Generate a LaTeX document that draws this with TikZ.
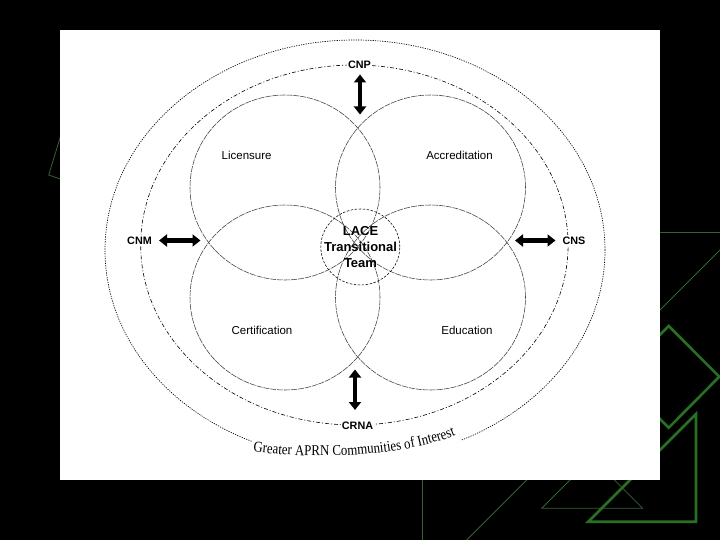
\documentclass[tikz,border=0pt]{standalone}
\usepackage{fontspec}
\setmainfont{Liberation Serif}
\setsansfont{Liberation Sans}
\newfontfamily\captionfont[FakeStretch=0.86]{Liberation Serif}
\usetikzlibrary{arrows.meta,decorations.text}
\definecolor{gthick}{RGB}{40,112,34}
\definecolor{gthin}{RGB}{52,98,52}
\definecolor{ringgray}{RGB}{60,60,60}
\tikzset{
  greenthin/.style={draw=gthin, line width=0.8pt},
  greenthick/.style={draw=gthick, line width=2.6pt, line join=miter},
  outerring/.style={draw=black, line width=0.65pt, dash pattern=on 1.2pt off 1.2pt},
  midring/.style={draw=black, line width=0.6pt, dash pattern=on 4pt off 2pt on 1pt off 2pt},
  petal/.style={draw=ringgray, line width=0.55pt, dash pattern=on 6pt off 1pt},
  corering/.style={draw=black, line width=0.55pt, dash pattern=on 2.5pt off 1.5pt},
  area/.style={font=\sffamily\fontsize{11.5}{12}\selectfont, inner sep=1pt},
  tag/.style={font=\sffamily\bfseries\fontsize{10.8}{11}\selectfont, fill=white, inner sep=1.2pt},
  core/.style={font=\sffamily\bfseries\fontsize{13}{16}\selectfont, align=center, inner sep=0pt},
  fat/.style={line width=4.5pt, {Triangle[length=8pt,width=12pt]}-{Triangle[length=8pt,width=12pt]}},
}
\begin{document}
\begin{tikzpicture}[x=1pt,y=-1pt]
\useasboundingbox (0,0) rectangle (720,540);
\fill[black] (0,0) rectangle (720,540);
% green decorations
\draw[greenthin] (68,112) -- (48.7,175) -- (66,181);
\draw[greenthin] (640,232.3) -- (720,232.3);
\draw[greenthin] (610,360) -- (720,250);
\draw[greenthin] (422.3,470) -- (422.3,540);
\draw[greenthin] (466.7,540) -- (545,461.7);
\draw[greenthin] (541.7,508.3) -- (592.2,457.8) -- (642.7,508.3) -- cycle;
\draw[greenthick] (668.7,326) -- (719.3,376.7) -- (668.7,427.7) -- (618,376.7) -- cycle;
\draw[greenthick] (588.3,521.7) -- (696,414) -- (696,521.7) -- cycle;
% white sheet
\fill[white] (60,30) rectangle (660,480);
% rings
\draw[outerring] (355,250) ellipse [x radius=250pt, y radius=210pt];
\draw[midring] (354.4,245) ellipse [x radius=213.7pt, y radius=180pt];
\draw[petal] (285,187.5) ellipse [x radius=95pt, y radius=92.5pt];
\draw[petal] (430.5,187.5) ellipse [x radius=95pt, y radius=92.5pt];
\draw[petal] (285,297.5) ellipse [x radius=95pt, y radius=92.5pt];
\draw[petal] (430.5,297.5) ellipse [x radius=95pt, y radius=92.5pt];
\draw[corering] (360.3,247) ellipse [x radius=39.5pt, y radius=38pt];
% area labels
\node[area] (lic) at (246.6,155.6) {Licensure};
\node[area] (acc) at (459.5,155.6) {Accreditation};
\node[area] (cert) at (262,330.6) {Certification};
\node[area] (edu) at (467,330.6) {Education};
\node[core] (lace) at (360.5,247.5) {LACE\\Transitional\\Team};
% outer tags
\node[tag] (cnp) at (359.5,65) {CNP};
\node[tag] (crna) at (357.5,425.5) {CRNA};
\node[tag] (cnm) at (139.5,240.5) {CNM};
\node[tag] (cns) at (574,240.5) {CNS};
% arrow ends
\coordinate (cnpA) at (360,74.5);
\coordinate (cnpB) at (360,114.5);
\coordinate (crnaA) at (355,369.5);
\coordinate (crnaB) at (355,410);
\coordinate (cnmA) at (159,240.5);
\coordinate (cnmB) at (200.5,240.5);
\coordinate (cnsA) at (515,240.5);
\coordinate (cnsB) at (555.5,240.5);
\draw[fat] (cnpA) -- (cnpB);
\draw[fat] (crnaA) -- (crnaB);
\draw[fat] (cnmA) -- (cnmB);
\draw[fat] (cnsA) -- (cnsB);
% curved caption, with a white band hiding the ring behind it
\draw[white, line width=21pt] (251,448) .. controls (300,457) and (400,459) .. (457,431);
\path[decorate, decoration={text along path, text align=center,
  text format delimiters={|}{|},
  text={|\captionfont\fontsize{15}{15}\selectfont|Greater APRN Communities of Interest}}]
  (242,450) .. controls (300,459) and (400,461) .. (466,431);
\end{tikzpicture}
\end{document}
